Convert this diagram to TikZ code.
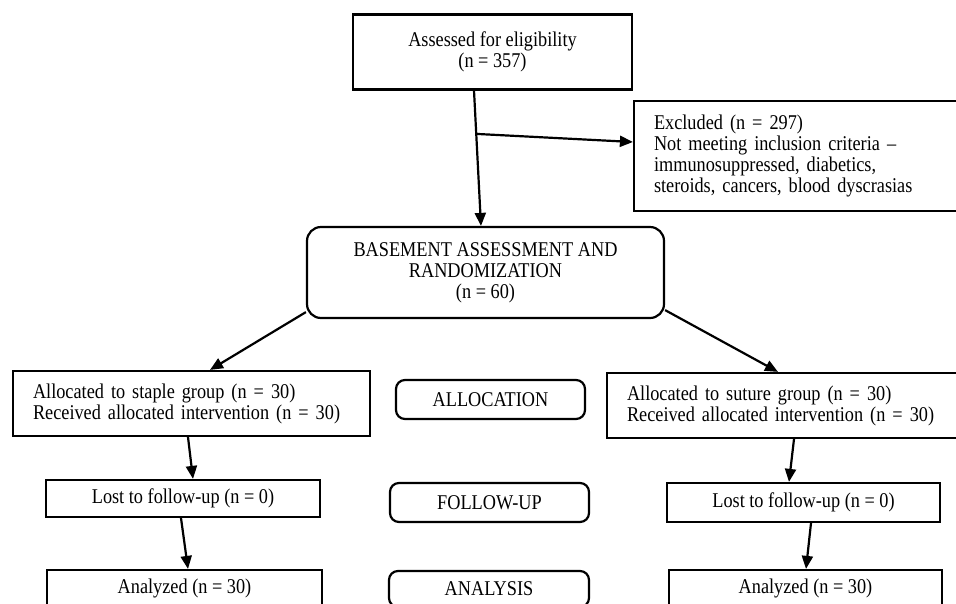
\documentclass[tikz,border=0pt]{standalone}
\usepackage{fontspec}
\setmainfont{Liberation Serif}[FakeStretch=0.87]
\usepackage{tikz}
\usetikzlibrary{arrows.meta,positioning}

\begin{document}
\begin{tikzpicture}[x=1pt,y=-1pt,
    line width=2.2pt,
    every node/.style={font=\fontsize{21}{21}\selectfont},
    box/.style={draw, rectangle, inner sep=0pt, align=center},
    leftbox/.style={draw, rectangle, inner xsep=20pt, inner ysep=0pt, align=left},
    roundbox/.style={draw, rectangle, rounded corners=9pt, inner sep=0pt, align=center},
    arr/.style={-{Triangle[length=13pt,width=11pt]}}]
    %%Page
    \useasboundingbox (0,0) rectangle (956,603);
    \clip (0,0) rectangle (956,603);
    %%Top
    \node[box, minimum width=279, minimum height=75] (assess) at (492.5,52)
        {Assessed for eligibility\\(n = 357)};
    \node[leftbox, text width=284, minimum height=110] (excl) at (796,156)
        {Excluded (n = 297)\\Not meeting inclusion criteria --\\immunosuppressed, diabetics,\\steroids, cancers, blood dyscrasias};
    \node[roundbox, rounded corners=14pt, minimum width=357, minimum height=91] (base) at (485.5,272.5)
        {BASEMENT ASSESSMENT AND\\RANDOMIZATION\\(n = 60)};
    %%Groups
    \node[leftbox, text width=317, minimum height=65] (staple) at (191.5,403.5)
        {Allocated to staple group (n = 30)\\Received allocated intervention (n = 30)};
    \node[leftbox, text width=315, minimum height=65] (suture) at (784.5,405.5)
        {Allocated to suture group (n = 30)\\Received allocated intervention (n = 30)};
    \node[box, minimum width=274, minimum height=37] (lostL) at (183,498.5) {Lost to follow-up (n = 0)};
    \node[box, minimum width=273, minimum height=39] (lostR) at (803.5,502.5) {Lost to follow-up (n = 0)};
    \node[box, minimum width=275, minimum height=36] (anaL) at (184.5,588) {Analyzed (n = 30)};
    \node[box, minimum width=273, minimum height=36] (anaR) at (805.5,588) {Analyzed (n = 30)};
    %%Stages
    \node[roundbox, minimum width=189, minimum height=39] (alloc) at (490.5,399.5) {ALLOCATION};
    \node[roundbox, minimum width=199, minimum height=39] (follow) at (489.5,502.5) {FOLLOW-UP};
    \node[roundbox, minimum width=200, minimum height=36] (analysis) at (489,589) {ANALYSIS};
    %%Arrows
    \draw[arr] ([xshift=-18.5pt]assess.south) -- coordinate[pos=0.32] (split) ([xshift=-4.5pt]base.north);
    \draw[arr] (split) -- ([yshift=14pt]excl.west);
    \draw[arr] ([yshift=7pt]base.south west) -- ([xshift=18.5pt]staple.north);
    \draw[arr] ([yshift=9pt]base.south east) -- ([xshift=-6.5pt]suture.north);
    \draw[arr] ([xshift=-3.5pt]staple.south) -- ([xshift=10pt]lostL.north);
    \draw[arr] ([xshift=-2pt]lostL.south) -- ([xshift=3.5pt]anaL.north);
    \draw[arr] ([xshift=9.5pt]suture.south) -- ([xshift=-14.5pt]lostR.north);
    \draw[arr] ([xshift=7.5pt]lostR.south) -- ([xshift=0.5pt]anaR.north);
\end{tikzpicture}
\end{document}
